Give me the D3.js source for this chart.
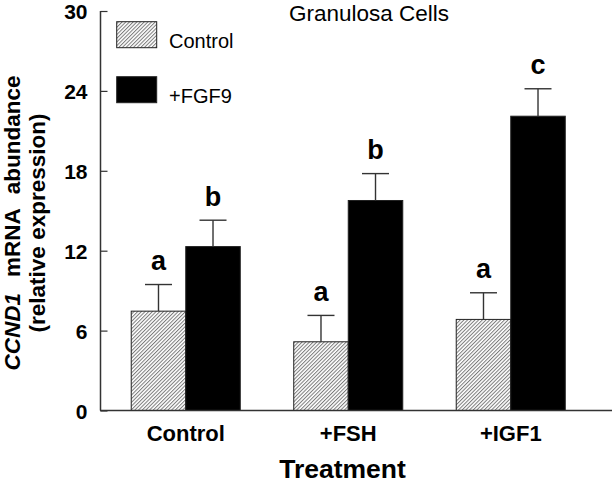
<!DOCTYPE html>
<html>
<head>
<meta charset="utf-8">
<script src="https://cdn.jsdelivr.net/npm/d3@7"></script>
<style>
  html, body { margin: 0; padding: 0; background: #fff; }
  svg { display: block; font-family: "Liberation Sans", Arial, sans-serif; }
</style>
</head>
<body>
<svg id="chart" width="615" height="485"></svg>
<script>
// ---- data ----
const groups = ["Control", "+FSH", "+IGF1"];
const series = ["Control", "+FGF9"];
const controlMeans = [7.46, 5.16, 6.84];
const controlErrors = [2.0, 1.98, 2.0];
const fgf9Means = [12.31, 15.77, 22.1];
const fgf9Errors = [1.98, 2.02, 2.06];
const controlLetters = ["a", "a", "a"];
const fgf9Letters = ["b", "b", "c"];
const yMajorTicks = [0, 6, 12, 18, 24, 30];
const yMinorTicks = [3, 9, 15, 21, 27];

const rows = [];
groups.forEach((g, i) => {
  rows.push({ group: g, series: series[0], mean: controlMeans[i], err: controlErrors[i], letter: controlLetters[i] });
  rows.push({ group: g, series: series[1], mean: fgf9Means[i], err: fgf9Errors[i], letter: fgf9Letters[i] });
});

const svg = d3.select("#chart");
const FONT = '"Liberation Sans", Arial, sans-serif';
const axisColor = "#333";

// hatch pattern
const defs = svg.append("defs");
const pat = defs.append("pattern")
  .attr("id", "hatch")
  .attr("patternUnits", "userSpaceOnUse")
  .attr("width", 2.6).attr("height", 2.6)
  .attr("patternTransform", "rotate(45)");
pat.append("rect").attr("width", 2.6).attr("height", 2.6).attr("fill", "#fff");
pat.append("line").attr("x1", 0.5).attr("y1", 0).attr("x2", 0.5).attr("y2", 2.6)
  .attr("stroke", "#7a7a7a").attr("stroke-width", 1);

const fills = { "Control": "url(#hatch)", "+FGF9": "#000" };

// scales
const x0 = d3.scaleBand().domain(groups).range([104.5, 592]).paddingInner(0.329).paddingOuter(0.1645);
const x1 = d3.scaleBand().domain(series).range([0, x0.bandwidth()]);
const y = d3.scaleLinear().domain([0, 30]).range([410.5, 11]);

// axes
const yAxisG = svg.append("g").attr("transform", "translate(100.5,0)");
yAxisG.call(d3.axisLeft(y).tickValues(yMinorTicks).tickSize(-7).tickFormat(""));
yAxisG.call(d3.axisLeft(y).tickValues(yMajorTicks).tickSize(-7).tickPadding(13).tickFormat(d3.format("d")));
yAxisG.selectAll(".domain").remove();
yAxisG.selectAll("line").attr("stroke", axisColor).attr("stroke-width", 1.2);
yAxisG.selectAll("text")
  .attr("font-family", FONT).attr("font-size", 21).attr("font-weight", "bold").attr("fill", "#000")
  .attr("dy", "0.36em");
yAxisG.attr("font-family", null);

// y axis line
svg.append("line").attr("x1", 100.5).attr("x2", 100.5).attr("y1", y(30)).attr("y2", y(0))
  .attr("stroke", axisColor).attr("stroke-width", 1.5);

// bars
const gBars = svg.append("g");
gBars.selectAll("rect").data(rows).join("rect")
  .attr("x", d => x0(d.group) + x1(d.series))
  .attr("y", d => y(d.mean))
  .attr("width", x1.bandwidth())
  .attr("height", d => y(0) - y(d.mean))
  .attr("fill", d => fills[d.series])
  .attr("stroke", "#222").attr("stroke-width", 1);

// error bars
const capW = 27;
const gErr = svg.append("g").attr("stroke", "#333").attr("stroke-width", 1.4);
rows.forEach(d => {
  const cx = x0(d.group) + x1(d.series) + x1.bandwidth() / 2;
  gErr.append("line").attr("x1", cx).attr("x2", cx).attr("y1", y(d.mean)).attr("y2", y(d.mean + d.err));
  gErr.append("line").attr("x1", cx - capW / 2).attr("x2", cx + capW / 2).attr("y1", y(d.mean + d.err)).attr("y2", y(d.mean + d.err));
});

// significance letters
svg.append("g").selectAll("text").data(rows).join("text")
  .attr("x", d => x0(d.group) + x1(d.series) + x1.bandwidth() / 2)
  .attr("y", d => y(d.mean + d.err) - 14.5)
  .attr("text-anchor", "middle")
  .attr("font-family", FONT).attr("font-size", 27).attr("font-weight", "bold")
  .text(d => d.letter);

// x axis line
svg.append("line").attr("x1", 100).attr("x2", 612).attr("y1", y(0)).attr("y2", y(0))
  .attr("stroke", axisColor).attr("stroke-width", 1.5);

// x tick labels
svg.append("g").selectAll("text").data(groups).join("text")
  .attr("x", d => x0(d) + x0.bandwidth() / 2)
  .attr("y", 440.5)
  .attr("text-anchor", "middle")
  .attr("font-family", FONT).attr("font-size", 22).attr("font-weight", "bold")
  .text(d => d);

// x axis title
svg.append("text").attr("x", 342.5).attr("y", 478)
  .attr("text-anchor", "middle")
  .attr("font-family", FONT).attr("font-size", 26.5).attr("font-weight", "bold")
  .text("Treatment");

// y axis title
const yt = svg.append("text")
  .attr("transform", "translate(19.5,223) rotate(-90)")
  .attr("text-anchor", "middle")
  .attr("font-family", FONT).attr("font-size", 22.5).attr("font-weight", "bold");
yt.append("tspan").attr("font-style", "italic").text("CCND1");
yt.append("tspan").attr("dx", 16).text("mRNA");
yt.append("tspan").attr("dx", 14).text("abundance");
svg.append("text")
  .attr("transform", "translate(44.5,223) rotate(-90)")
  .attr("text-anchor", "middle")
  .attr("font-family", FONT).attr("font-size", 22.5).attr("font-weight", "bold")
  .text("(relative expression)");

// title
svg.append("text").attr("x", 369).attr("y", 20.5)
  .attr("text-anchor", "middle")
  .attr("font-family", FONT).attr("font-size", 22.5)
  .text("Granulosa Cells");

// legend
const legendY = [21.7, 76.7];
const lg = svg.append("g");
series.forEach((s, i) => {
  lg.append("rect").attr("x", 116.7).attr("y", legendY[i]).attr("width", 40).attr("height", 26)
    .attr("fill", fills[s]).attr("stroke", "#222").attr("stroke-width", 1);
  lg.append("text").attr("x", 169).attr("y", legendY[i] + 26)
    .attr("font-family", FONT).attr("font-size", 20)
    .text(s);
});
</script>
</body>
</html>
